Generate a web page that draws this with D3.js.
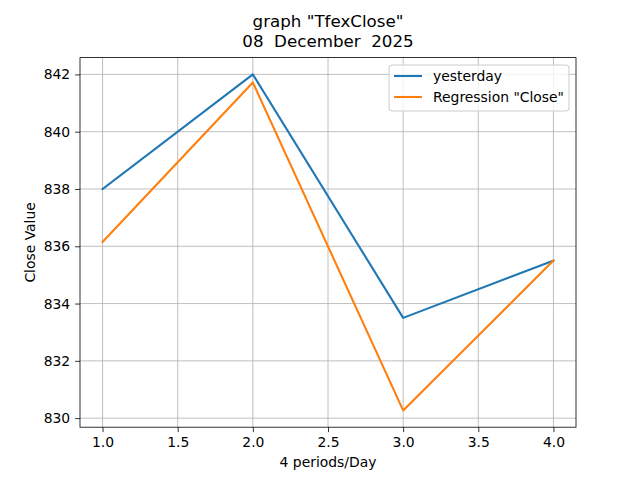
<!DOCTYPE html>
<html><head><meta charset="utf-8">
<script src="https://cdn.jsdelivr.net/npm/d3@7"></script>
<style>body{margin:0;background:#fff}svg{display:block}text{font-family:"DejaVu Sans",sans-serif;fill:#000}</style>
</head><body>
<script>
const periods = [1, 2, 3, 4];
const yesterday = [838.0, 842.0, 833.5, 835.5];
const regression = [836.15, 841.72, 830.27, 835.5];
const xTicks = [1.0, 1.5, 2.0, 2.5, 3.0, 3.5, 4.0];
const yTicks = [830, 832, 834, 836, 838, 840, 842];
const titleLines = ['graph "TfexClose"', '08  December  2025'];
const seriesNames = ['yesterday', 'Regression "Close"'];
const colors = ['#1f77b4', '#ff7f0e'];

const W = 640, H = 480;
const L = 80, R = 576, T = 57.6, B = 427.2;
const svg = d3.select('body').append('svg').attr('width', W).attr('height', H);

const all = yesterday.concat(regression);
const ymin = d3.min(all), ymax = d3.max(all), yr = ymax - ymin;
const x = d3.scaleLinear().domain([0.85, 4.15]).range([L, R]);
const y = d3.scaleLinear().domain([ymin - 0.05 * yr, ymax + 0.05 * yr]).range([B, T]);

// grid
svg.append('g').selectAll('line').data(xTicks).join('line')
  .attr('x1', d => x(d)).attr('x2', d => x(d)).attr('y1', T).attr('y2', B)
  .attr('stroke', '#b0b0b0').attr('stroke-width', 0.8);
svg.append('g').selectAll('line').data(yTicks).join('line')
  .attr('y1', d => y(d)).attr('y2', d => y(d)).attr('x1', L).attr('x2', R)
  .attr('stroke', '#b0b0b0').attr('stroke-width', 0.8);

// axes
const xa = svg.append('g').attr('transform', `translate(0,${B})`)
  .call(d3.axisBottom(x).tickValues(xTicks).tickFormat(d3.format('.1f')).tickSizeOuter(0).tickSize(4.9).tickPadding(4.9));
const ya = svg.append('g').attr('transform', `translate(${L},0)`)
  .call(d3.axisLeft(y).tickValues(yTicks).tickFormat(d3.format('d')).tickSizeOuter(0).tickSize(4.9).tickPadding(4.9));
[xa, ya].forEach(a => {
  a.select('.domain').remove();
  a.selectAll('line').attr('stroke', '#000').attr('stroke-width', 0.8);
  a.selectAll('text').style('font-family', '"DejaVu Sans",sans-serif').style('font-size', '13.9px').attr('fill', '#000');
});

// spines
svg.append('rect').attr('x', L).attr('y', T).attr('width', R - L).attr('height', B - T)
  .attr('fill', 'none').attr('stroke', '#000').attr('stroke-width', 0.8);

// lines
const line = d3.line().x((d, i) => x(periods[i])).y(d => y(d));
[yesterday, regression].forEach((s, k) => {
  svg.append('path').datum(s).attr('d', line).attr('fill', 'none')
    .attr('stroke', colors[k]).attr('stroke-width', 2.1).attr('stroke-linejoin', 'round').attr('stroke-linecap', 'square');
});

// title
titleLines.forEach((t, i) => {
  svg.append('text').attr('x', (L + R) / 2).attr('y', 27 + i * 20).attr('text-anchor', 'middle')
    .style('font-size', '16.7px').style('white-space', 'pre').text(t);
});

// labels
svg.append('text').attr('x', (L + R) / 2).attr('y', 467).attr('text-anchor', 'middle')
  .style('font-size', '13.9px').text('4 periods/Day');
svg.append('text').attr('transform', `translate(35,${(T + B) / 2}) rotate(-90)`).attr('text-anchor', 'middle')
  .style('font-size', '13.9px').text('Close Value');

// legend
const lg = svg.append('g');
lg.append('rect').attr('x', 389).attr('y', 65).attr('width', 180).attr('height', 46).attr('rx', 3)
  .attr('fill', '#fff').attr('fill-opacity', 0.8).attr('stroke', '#cccccc').attr('stroke-width', 1);
seriesNames.forEach((n, i) => {
  const yy = 76 + i * 21;
  lg.append('line').attr('x1', 394).attr('x2', 422).attr('y1', yy).attr('y2', yy)
    .attr('stroke', colors[i]).attr('stroke-width', 2.1);
  lg.append('text').attr('x', 433).attr('y', yy + 5).style('font-size', '13.9px').text(n);
});
</script>
</body></html>
